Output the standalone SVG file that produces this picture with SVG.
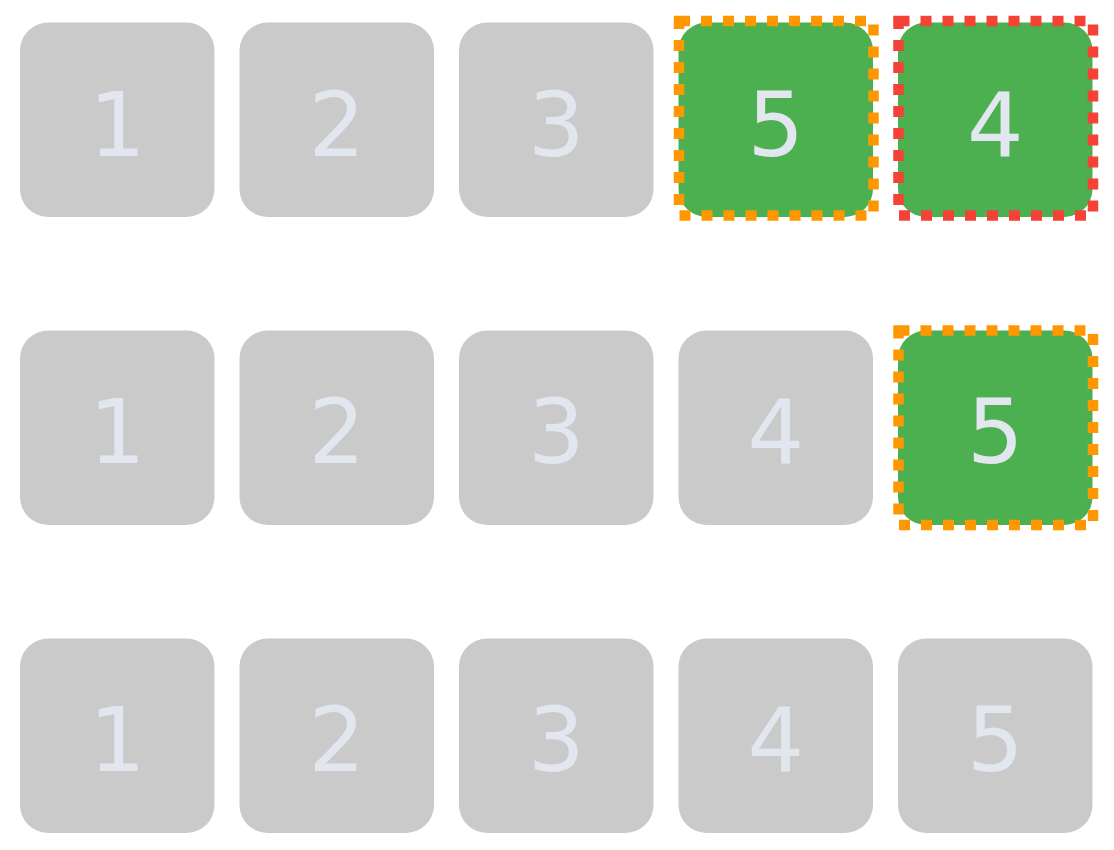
<svg xmlns="http://www.w3.org/2000/svg" width="1114" height="850" viewBox="0 0 1114 850">
<style>
.box{fill:#CACACA}
.sel{fill:#4CAF50}
.lbl{font-family:"DejaVu Sans",sans-serif;font-size:89px;fill:#E2E6EF;text-anchor:middle}
.dash{fill:none;stroke-width:10.5;stroke-dasharray:11 11}
.orange{stroke:#FF9800}
.red{stroke:#F44336}
</style>
<rect width="1114" height="850" fill="#FFFFFF"/>
<g id="row1">
<g id="r1n1"><rect class="box" x="20" y="22.5" width="194.5" height="194.5" rx="28"/><text class="lbl" x="117.25" y="155.5">1</text></g>
<g id="r1n2"><rect class="box" x="239.5" y="22.5" width="194.5" height="194.5" rx="28"/><text class="lbl" x="336.75" y="155.5">2</text></g>
<g id="r1n3"><rect class="box" x="459" y="22.5" width="194.5" height="194.5" rx="28"/><text class="lbl" x="556.25" y="155.5">3</text></g>
<g id="r1n5"><rect class="sel" x="678.5" y="22.5" width="194.5" height="194.5" rx="28"/><text class="lbl" x="775.75" y="155.5">5</text><rect class="dash orange" x="679" y="21" width="194.5" height="194.5"/></g>
<g id="r1n4"><rect class="sel" x="898" y="22.5" width="194.5" height="194.5" rx="28"/><text class="lbl" x="995.25" y="155.5">4</text><rect class="dash red" x="898.5" y="21" width="194.5" height="194.5"/></g>
</g>
<g id="row2">
<g id="r2n1"><rect class="box" x="20" y="330.5" width="194.5" height="194.5" rx="28"/><text class="lbl" x="117.25" y="463">1</text></g>
<g id="r2n2"><rect class="box" x="239.5" y="330.5" width="194.5" height="194.5" rx="28"/><text class="lbl" x="336.75" y="463">2</text></g>
<g id="r2n3"><rect class="box" x="459" y="330.5" width="194.5" height="194.5" rx="28"/><text class="lbl" x="556.25" y="463">3</text></g>
<g id="r2n4"><rect class="box" x="678.5" y="330.5" width="194.5" height="194.5" rx="28"/><text class="lbl" x="775.75" y="463">4</text></g>
<g id="r2n5"><rect class="sel" x="898" y="330.5" width="194.5" height="194.5" rx="28"/><text class="lbl" x="995.25" y="463">5</text><rect class="dash orange" x="898.5" y="330.5" width="194.5" height="194.5"/></g>
</g>
<g id="row3">
<g id="r3n1"><rect class="box" x="20" y="638.5" width="194.5" height="194.5" rx="28"/><text class="lbl" x="117.25" y="771">1</text></g>
<g id="r3n2"><rect class="box" x="239.5" y="638.5" width="194.5" height="194.5" rx="28"/><text class="lbl" x="336.75" y="771">2</text></g>
<g id="r3n3"><rect class="box" x="459" y="638.5" width="194.5" height="194.5" rx="28"/><text class="lbl" x="556.25" y="771">3</text></g>
<g id="r3n4"><rect class="box" x="678.5" y="638.5" width="194.5" height="194.5" rx="28"/><text class="lbl" x="775.75" y="771">4</text></g>
<g id="r3n5"><rect class="box" x="898" y="638.5" width="194.5" height="194.5" rx="28"/><text class="lbl" x="995.25" y="771">5</text></g>
</g>
<g id="connectors"/>
</svg>
